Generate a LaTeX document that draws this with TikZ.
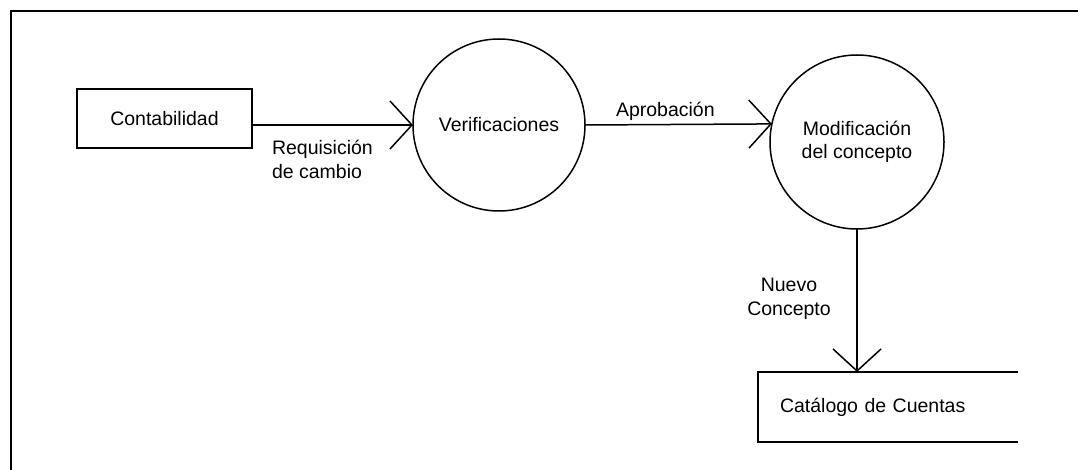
\documentclass[tikz,border=0pt]{standalone}
\usepackage{fontspec}
\setmainfont{Liberation Sans}
\usetikzlibrary{arrows.meta}
\begin{document}
\begin{tikzpicture}[x=1pt,y=-1pt,line width=1.5pt,
  font=\fontsize{19.5}{23.5}\selectfont,
  proc/.style={circle, draw, minimum size=172pt, inner sep=0pt, outer sep=0pt, align=center},
  ext/.style={rectangle, draw, minimum width=175pt, minimum height=59pt, inner sep=0pt, outer sep=0pt},
  store/.style={rectangle, minimum width=260pt, minimum height=70pt, inner xsep=22pt, inner ysep=0pt, outer sep=0pt, text width=216pt, align=left},
  flow/.style={-{Straight Barb[length=22pt,width=48pt]}},
  lbl/.style={inner sep=0pt, outer sep=0pt}
]
\useasboundingbox (0,0) rectangle (1078,470);
% frame
\draw (11,470) -- (11,11) -- (1078,11);

\node[ext] (cont) at (164.5,118.5) {Contabilidad};
\node[proc] (ver) at (499,125) {Verificaciones};
\node[proc, minimum size=174pt] (mod) at (857,142) {Modificación\\del concepto};
\node[store] (cat) at (888,407) {Catálogo de Cuentas};
\draw (cat.north east) -- (cat.north west) -- (cat.south west) -- (cat.south east);

\draw[flow] ([yshift=-6.5pt]cont.east) -- (ver.west);
\draw[flow] (ver.east) -- (mod.168.7);
\draw[flow] (mod.south) -- (mod.south |- cat.north);

\node[lbl, anchor=base west, align=left] (l1) at (272,178.5) {Requisición\\de cambio};
\node[lbl, anchor=base west] (l2) at (616,117) {Aprobación};
\node[lbl, anchor=base, align=center] (l3) at (789,315) {Nuevo\\Concepto};
\end{tikzpicture}
\end{document}
